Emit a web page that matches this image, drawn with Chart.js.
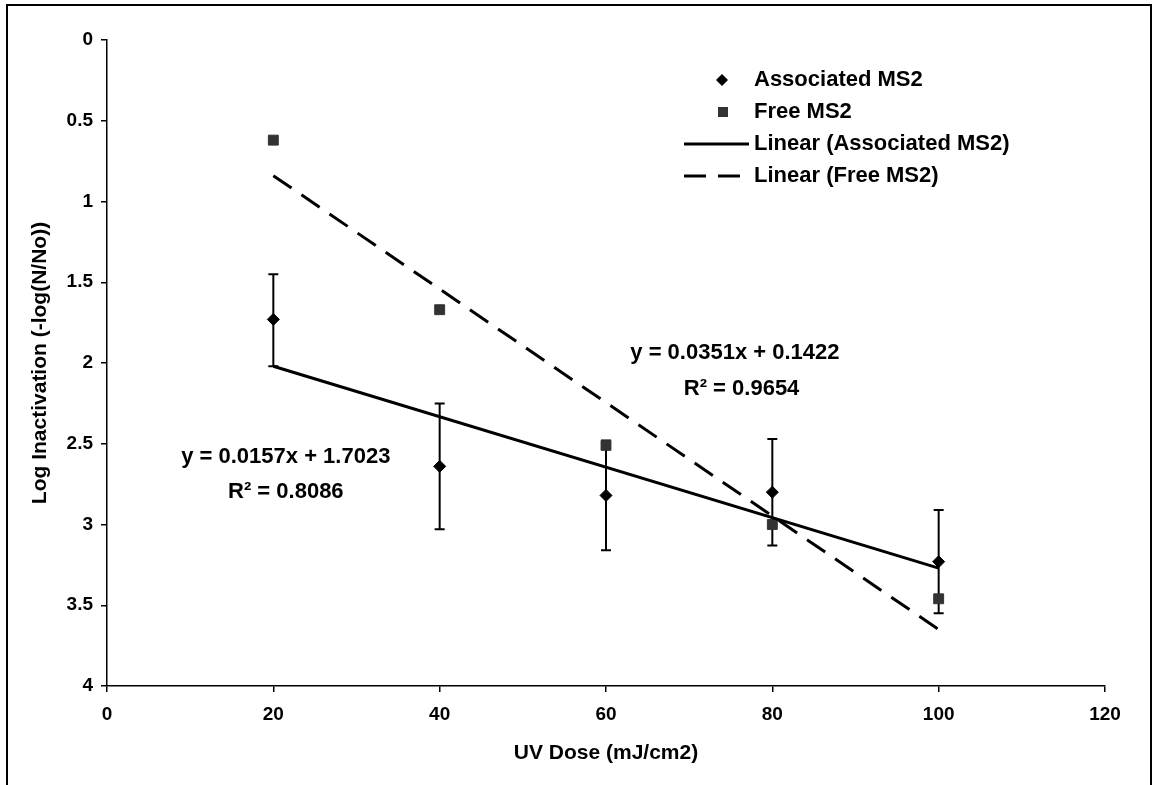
<!DOCTYPE html>
<html>
<head>
<meta charset="utf-8">
<script src="https://cdn.jsdelivr.net/npm/chart.js@4.4.0/dist/chart.umd.min.js"></script>
<style>
  body { margin: 0; background: #fff; }
</style>
</head>
<body>
<canvas id="myChart" width="1158" height="785"></canvas>
<script>
// values
const doses = [20, 40, 60, 80, 100];
const associated = [1.73, 2.64, 2.82, 2.80, 3.23];
const associatedErrLow = [1.45, 2.25, 2.48, 2.47, 2.91];
const associatedErrHigh = [2.02, 3.03, 3.16, 3.13, 3.55];
const free = [0.62, 1.67, 2.51, 3.00, 3.46];

// trendline end points (Excel linear fits)
const trendDoses = [20, 100];
const associatedTrend = [2.02, 3.27];
const freeTrend = [0.84, 3.65];

const xTickValues = [0, 20, 40, 60, 80, 100, 120];
const yTickValues = [0, 0.5, 1, 1.5, 2, 2.5, 3, 3.5, 4];

const legendLabels = ['Associated MS2', 'Free MS2', 'Linear (Associated MS2)', 'Linear (Free MS2)'];
const assocEquation = ['y = 0.0157x + 1.7023', 'R\u00B2 = 0.8086'];
const freeEquation = ['y = 0.0351x + 0.1422', 'R\u00B2 = 0.9654'];

const FONT = "'Liberation Sans', Arial, sans-serif";

function toPoints(xs, ys) {
    return xs.map((x, i) => ({ x: x, y: ys[i] }));
}

const errorBars = {
    id: 'errorBars',
    beforeDatasetsDraw(chart) {
        const ctx = chart.ctx;
        const xs = chart.scales.x;
        const ys = chart.scales.y;
        ctx.save();
        ctx.strokeStyle = '#000';
        ctx.lineWidth = 2;
        doses.forEach((d, i) => {
            const px = xs.getPixelForValue(d);
            const top = ys.getPixelForValue(associatedErrLow[i]);
            const bot = ys.getPixelForValue(associatedErrHigh[i]);
            ctx.beginPath();
            ctx.moveTo(px, top);
            ctx.lineTo(px, bot);
            ctx.moveTo(px - 5, top);
            ctx.lineTo(px + 5, top);
            ctx.moveTo(px - 5, bot);
            ctx.lineTo(px + 5, bot);
            ctx.stroke();
        });
        ctx.restore();
    }
};

const extras = {
    id: 'extras',
    afterDraw(chart) {
        const ctx = chart.ctx;
        const xs = chart.scales.x;
        const ys = chart.scales.y;
        ctx.save();

        // frame round the figure
        ctx.strokeStyle = '#000';
        ctx.lineWidth = 2;
        ctx.strokeRect(7, 5, 1144, 800);

        // legend
        ctx.font = 'bold 22px ' + FONT;
        ctx.fillStyle = '#000';
        ctx.textBaseline = 'middle';
        ctx.textAlign = 'left';
        const rows = [80, 112, 144, 176];
        const textX = 754;

        ctx.beginPath();
        ctx.moveTo(722, rows[0] - 6);
        ctx.lineTo(728, rows[0]);
        ctx.lineTo(722, rows[0] + 6);
        ctx.lineTo(716, rows[0]);
        ctx.closePath();
        ctx.fill();

        ctx.fillStyle = '#333';
        ctx.fillRect(718, rows[1] - 5, 10, 10);
        ctx.fillStyle = '#000';

        ctx.lineWidth = 3;
        ctx.beginPath();
        ctx.moveTo(684, rows[2]);
        ctx.lineTo(749, rows[2]);
        ctx.stroke();

        ctx.setLineDash([22, 12]);
        ctx.beginPath();
        ctx.moveTo(684, rows[3]);
        ctx.lineTo(749, rows[3]);
        ctx.stroke();
        ctx.setLineDash([]);

        legendLabels.forEach((t, i) => ctx.fillText(t, textX, rows[i]));

        // trendline equations
        ctx.textAlign = 'center';
        ctx.fillText(freeEquation[0], xs.getPixelForValue(75.5), ys.getPixelForValue(1.94));
        ctx.fillText(freeEquation[1], xs.getPixelForValue(76.3), ys.getPixelForValue(2.16));
        ctx.fillText(assocEquation[0], xs.getPixelForValue(21.5), ys.getPixelForValue(2.58));
        ctx.fillText(assocEquation[1], xs.getPixelForValue(21.5), ys.getPixelForValue(2.80));

        ctx.restore();
    }
};

const ctx = document.getElementById('myChart');

new Chart(ctx, {
    type: 'scatter',
    data: {
        datasets: [
            {
                label: 'Linear (Associated MS2)',
                type: 'line',
                data: toPoints(trendDoses, associatedTrend),
                borderColor: '#000',
                borderWidth: 3,
                pointRadius: 0,
                fill: false
            },
            {
                label: 'Linear (Free MS2)',
                type: 'line',
                data: toPoints(trendDoses, freeTrend),
                borderColor: '#000',
                borderWidth: 3,
                borderDash: [22, 12],
                pointRadius: 0,
                fill: false
            },
            {
                label: 'Associated MS2',
                data: toPoints(doses, associated),
                pointStyle: 'rectRot',
                pointRadius: 6,
                backgroundColor: '#000',
                borderColor: '#000',
                borderWidth: 1
            },
            {
                label: 'Free MS2',
                data: toPoints(doses, free),
                pointStyle: 'rect',
                pointRadius: 7,
                backgroundColor: '#333',
                borderColor: '#333',
                borderWidth: 1
            }
        ]
    },
    options: {
        responsive: false,
        animation: false,
        layout: { padding: { top: 40, right: 53, bottom: 0, left: 0 } },
        plugins: {
            legend: { display: false },
            tooltip: { enabled: false }
        },
        scales: {
            x: {
                type: 'linear',
                min: 0,
                max: 120,
                afterBuildTicks: (scale) => { scale.ticks = xTickValues.map(v => ({ value: v })); },
                afterFit: (scale) => { scale.height = 99; },
                grid: { drawOnChartArea: false, drawTicks: true, tickLength: 6, color: '#000', lineWidth: 1.5 },
                border: { display: true, color: '#000', width: 1.5 },
                ticks: {
                    color: '#000',
                    padding: 11,
                    callback: (v) => String(v),
                    font: { family: FONT, size: 19, weight: 'bold' }
                },
                title: {
                    display: true,
                    text: 'UV Dose (mJ/cm2)',
                    color: '#000',
                    padding: { top: 0, bottom: 19 },
                    font: { family: FONT, size: 21, weight: 'bold' }
                }
            },
            y: {
                type: 'linear',
                reverse: true,
                min: 0,
                max: 4,
                afterBuildTicks: (scale) => { scale.ticks = yTickValues.map(v => ({ value: v })); },
                afterFit: (scale) => { scale.width = 107; },
                grid: { drawOnChartArea: false, drawTicks: true, tickLength: 6, color: '#000', lineWidth: 1.5 },
                border: { display: true, color: '#000', width: 1.5 },
                ticks: {
                    color: '#000',
                    padding: 8,
                    callback: (v) => String(v),
                    font: { family: FONT, size: 19, weight: 'bold' }
                },
                title: {
                    display: true,
                    text: 'Log Inactivation (-log(N/No))',
                    color: '#000',
                    padding: { top: 28, bottom: 0 },
                    font: { family: FONT, size: 21, weight: 'bold' }
                }
            }
        }
    },
    plugins: [errorBars, extras]
});
</script>
</body>
</html>
